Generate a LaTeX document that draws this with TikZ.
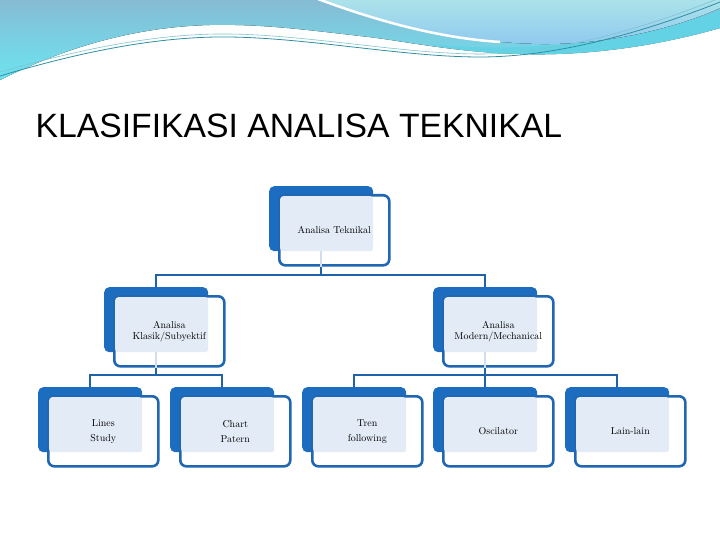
\documentclass[tikz,border=0pt]{standalone}
\usepackage{fontspec}
\newfontfamily\titlefont{Liberation Sans}
\definecolor{boxblue}{HTML}{1C6CC0}
\definecolor{edgeblue}{HTML}{1F66B3}
\definecolor{lightfill}{HTML}{E3EBF6}
\definecolor{connblue}{HTML}{1F62A8}
\definecolor{connlight}{HTML}{D3DEEC}
\definecolor{hdrA}{HTML}{86BCD4}
\definecolor{hdrB}{HTML}{6CE4F0}
\definecolor{hdrC}{HTML}{ABE2EA}
\definecolor{hdrD}{HTML}{8FC9EE}
\definecolor{cyanband}{HTML}{62D2E4}
\definecolor{tealA}{HTML}{2F8FA2}
\definecolor{tealB}{HTML}{7FC3CF}
\tikzset{
  bluebox/.style={fill=boxblue, rounded corners=5pt, minimum width=104pt, minimum height=65pt, inner sep=0pt, anchor=north west},
  outbox/.style={fill=white, draw=edgeblue, line width=2.6pt, rounded corners=6pt, minimum width=110pt, minimum height=70pt, inner sep=0pt, anchor=north west},
  lightbox/.style={fill=lightfill, rounded corners=3pt, minimum width=93pt, minimum height=55pt, inner sep=0pt, anchor=north west},
  boxtext/.style={font=\fontsize{10}{11}\selectfont, align=center, inner sep=0pt},
  conn/.style={draw=connblue, line width=2.4pt},
  connl/.style={draw=connlight, line width=2.4pt}
}
\newcommand\mkbox[4]{%
  \node[bluebox] (#1b) at (#2,#3) {};
  \node[outbox] (#1) at (#2+9,#3+8) {};
  \node[lightbox] (#1l) at (#2+11,#3+10) {};
  \node[boxtext] (#1t) at (#1.center) {#4};
}
\begin{document}
\begin{tikzpicture}[x=1pt,y=-1pt]
\useasboundingbox (0,0) rectangle (720,540);
\fill[white] (0,0) rectangle (720,540);
% header waves
\fill[top color=hdrA, bottom color=hdrB] (0,0) -- (720,0) -- (720,28)
  .. controls (650,48) and (580,56) .. (520,54)
  .. controls (450,52) and (400,40) .. (360,36)
  .. controls (300,29) and (260,24) .. (210,25)
  .. controls (130,27) and (60,50) .. (0,80) -- cycle;
\fill[cyanband] (430,44) .. controls (500,52) and (620,48) .. (720,10) -- (720,28)
  .. controls (650,48) and (580,56) .. (520,54)
  .. controls (480,53) and (450,49) .. (430,44) -- cycle;
\fill[top color=hdrC, bottom color=hdrD] (320,0) .. controls (380,22) and (450,42) .. (540,44)
  .. controls (620,45) and (690,22) .. (720,8) -- (720,0) -- cycle;
\draw[white, line width=2.5pt] (318,-1) .. controls (380,22) and (440,38) .. (500,42);
\draw[tealA, line width=0.8pt] (0,76) .. controls (60,58) and (140,38) .. (217,37)
  .. controls (300,36) and (400,57) .. (480,57) .. controls (560,57) and (650,30) .. (720,2);
\draw[tealB, line width=0.6pt] (0,72) .. controls (60,55) and (140,35) .. (217,34)
  .. controls (300,33) and (400,54) .. (480,54) .. controls (560,54) and (650,26) .. (720,-2);
% title
\node[font=\titlefont\fontsize{33.7}{40}\selectfont, anchor=base west, inner sep=0pt] (title) at (35.5,138) {KLASIFIKASI ANALISA TEKNIKAL};
% buses
\coordinate (bus1) at (0,275);
\coordinate (bus2) at (0,375);
% boxes
\mkbox{top}{269}{186}{Analisa Teknikal}
\mkbox{kl}{104}{287}{Analisa\\Klasik/Subyektif}
\mkbox{mo}{433}{287}{Analisa\\Modern/Mechanical}
\mkbox{li}{38}{387}{Lines\\[4pt]Study}
\mkbox{ch}{170}{387}{Chart\\[4pt]Patern}
\mkbox{tr}{302}{387}{Tren\\[4pt]following}
\mkbox{os}{433}{387}{Oscilator}
\mkbox{la}{565}{387}{Lain-lain}
% connectors
\draw[connl] (topl.south -| topb.south) -- (topb.south |- top.south);
\draw[connl] (kll.south -| klb.south) -- (klb.south |- kl.south);
\draw[connl] (mol.south -| mob.south) -- (mob.south |- mo.south);
\draw[conn] (topb.south |- top.south) -- (topb.south |- bus1);
\draw[conn] (klb.north) -- (klb.north |- bus1) -- (mob.north |- bus1) -- (mob.north);
\draw[conn] (klb.south |- kl.south) -- (klb.south |- bus2);
\draw[conn] (lib.north) -- (lib.north |- bus2) -- (chb.north |- bus2) -- (chb.north);
\draw[conn] (mob.south |- mo.south) -- (mob.south |- bus2);
\draw[conn] (trb.north) -- (trb.north |- bus2) -- (lab.north |- bus2) -- (lab.north);
\draw[conn] (osb.north) -- (osb.north |- bus2);
\end{tikzpicture}
\end{document}
